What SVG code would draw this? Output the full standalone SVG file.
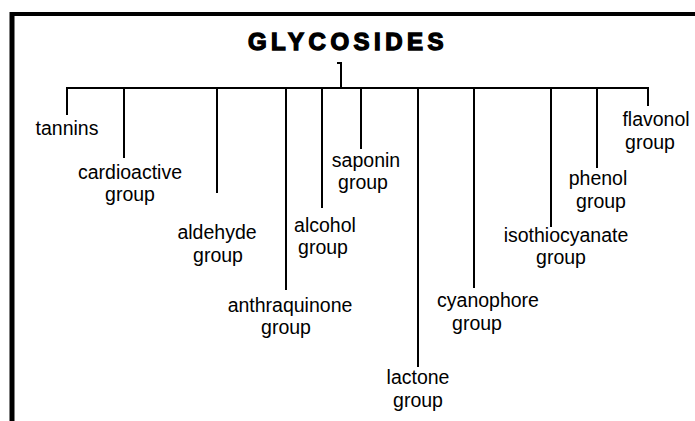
<svg xmlns="http://www.w3.org/2000/svg" width="695" height="421" viewBox="0 0 695 421">
<style>
.lbl{font-family:"Liberation Sans",Arial,sans-serif;font-size:19.5px;fill:#000;text-anchor:middle}
.title{font-family:"Liberation Sans",Arial,sans-serif;font-size:24px;font-weight:bold;fill:#000;stroke:#000;stroke-width:1.4;letter-spacing:4.5px;text-anchor:middle}
.ln{stroke:#000;stroke-width:2;fill:none}
.frame{stroke:#000;fill:none}
</style>
<rect width="695" height="421" fill="#fff"/>
<g id="frame">
<line class="frame" x1="10" y1="14" x2="695" y2="14" stroke-width="4"/>
<line class="frame" x1="12" y1="12" x2="12" y2="421" stroke-width="5"/>
</g>
<g id="title"><text class="title" x="348" y="50">GLYCOSIDES</text></g>
<g id="connectors">
<path class="ln" d="M337,63 H341 V88"/>
<line class="ln" x1="66" y1="88" x2="649" y2="88"/>
<line class="ln" x1="67" y1="88" x2="67" y2="115"/>
<line class="ln" x1="124" y1="88" x2="124" y2="158" stroke-width="2.5"/>
<line class="ln" x1="217" y1="88" x2="217" y2="193"/>
<line class="ln" x1="286" y1="88" x2="286" y2="290" stroke-width="3"/>
<line class="ln" x1="322" y1="88" x2="322" y2="208" stroke-width="2.5"/>
<line class="ln" x1="361" y1="88" x2="361" y2="149"/>
<line class="ln" x1="418" y1="88" x2="418" y2="367"/>
<line class="ln" x1="474" y1="88" x2="474" y2="288"/>
<line class="ln" x1="551" y1="88" x2="551" y2="227"/>
<line class="ln" x1="597" y1="88" x2="597" y2="168"/>
<line class="ln" x1="648" y1="88" x2="648" y2="106"/>
</g>
<g id="tannins"><text class="lbl" x="67" y="135">tannins</text></g>
<g id="cardioactive"><text class="lbl" x="130" y="179">cardioactive</text><text class="lbl" x="130" y="201">group</text></g>
<g id="aldehyde"><text class="lbl" x="217" y="239">aldehyde</text><text class="lbl" x="218" y="262">group</text></g>
<g id="anthraquinone"><text class="lbl" x="290" y="312">anthraquinone</text><text class="lbl" x="286" y="334">group</text></g>
<g id="alcohol"><text class="lbl" x="325" y="232">alcohol</text><text class="lbl" x="323" y="254">group</text></g>
<g id="saponin"><text class="lbl" x="366" y="167">saponin</text><text class="lbl" x="363" y="189">group</text></g>
<g id="lactone"><text class="lbl" x="418" y="384">lactone</text><text class="lbl" x="418" y="407">group</text></g>
<g id="cyanophore"><text class="lbl" x="488" y="307">cyanophore</text><text class="lbl" x="477" y="330">group</text></g>
<g id="isothiocyanate"><text class="lbl" x="566" y="242">isothiocyanate</text><text class="lbl" x="561" y="264">group</text></g>
<g id="phenol"><text class="lbl" x="598" y="185">phenol</text><text class="lbl" x="601" y="208">group</text></g>
<g id="flavonol"><text class="lbl" x="656" y="126">flavonol</text><text class="lbl" x="650" y="149">group</text></g>
</svg>
